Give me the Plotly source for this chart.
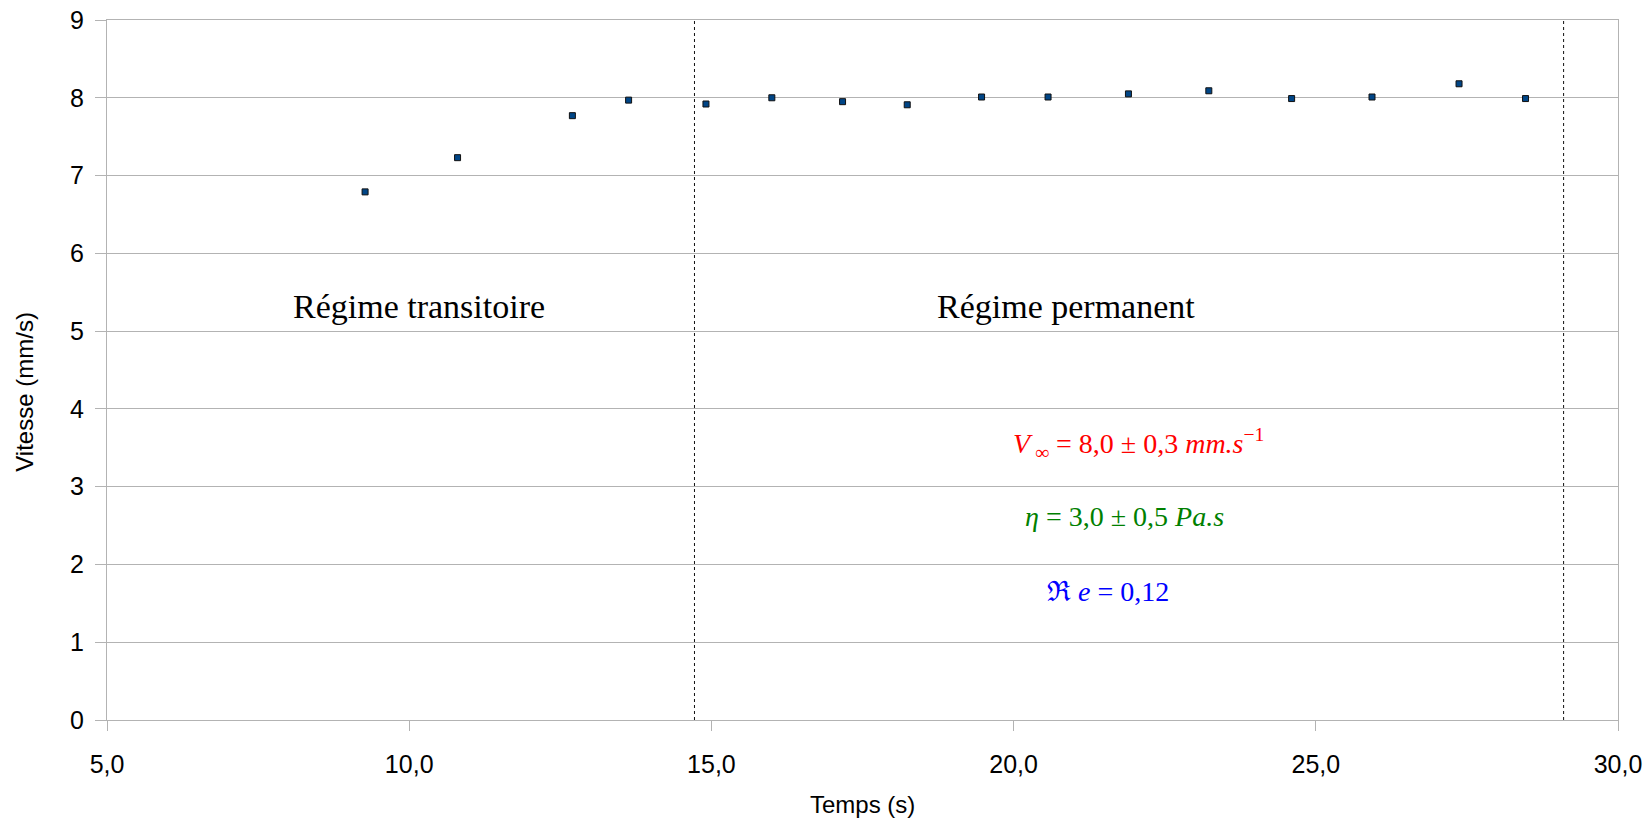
import plotly.graph_objects as go

# Data
temps = [9.27, 10.80, 12.70, 13.63, 14.91, 16.00, 17.17, 18.24, 19.47, 20.57,
         21.90, 23.23, 24.60, 25.93, 27.37, 28.47]
vitesse = [6.79, 7.23, 7.77, 7.97, 7.92, 8.00, 7.95, 7.91, 8.01, 8.01,
           8.05, 8.09, 7.99, 8.01, 8.18, 7.99]
separations = [14.72, 29.10]
x_ticks = [5, 10, 15, 20, 25, 30]
y_ticks = [0, 1, 2, 3, 4, 5, 6, 7, 8, 9]

fig = go.Figure()
fig.add_trace(go.Scatter(
    x=temps, y=vitesse, mode="markers",
    marker=dict(symbol="square", size=6, color="#004586",
                line=dict(color="#111111", width=1)),
    showlegend=False,
))

for xs in separations:
    fig.add_shape(type="line", xref="x", yref="paper", x0=xs, x1=xs, y0=0, y1=1,
                  line=dict(color="#111111", width=1, dash="3px,3px"))

serif_big = dict(family="Liberation Serif", size=34, color="black")
fig.add_annotation(x=10.16, y=5.16, text="Régime transitoire", showarrow=False,
                   font=serif_big, yanchor="bottom", yshift=-8)
fig.add_annotation(x=20.87, y=5.16, text="Régime permanent", showarrow=False,
                   font=serif_big, yanchor="bottom", yshift=-8)

math_font = dict(family="Liberation Serif", size=28)
fig.add_annotation(x=22.07, y=3.55,
                   text="<i>V</i><sub> ∞</sub> = 8,0 ± 0,3 <i>mm.s</i><sup>−1</sup>",
                   showarrow=False, font=dict(math_font, color="#ff0000"))
fig.add_annotation(x=21.84, y=2.62,
                   text="<i>η</i> = 3,0 ± 0,5 <i>Pa.s</i>",
                   showarrow=False, font=dict(math_font, color="#008000"))
fig.add_annotation(x=21.56, y=1.65,
                   text="ℜ <i>e</i> = 0,12",
                   showarrow=False, font=dict(math_font, color="#0000ff"))

title_font = dict(family="Liberation Sans", size=24, color="black")
# Axis titles placed in the margins
fig.add_annotation(xref="paper", yref="paper", x=0.5, y=0, yanchor="middle",
                   yshift=-84, text="Temps (s)", showarrow=False, font=title_font)
fig.add_annotation(xref="paper", yref="paper", x=0, y=0.469, xanchor="center",
                   yanchor="middle", xshift=-82, textangle=-90, text="Vitesse (mm/s)",
                   showarrow=False, font=title_font)

axis_font = dict(family="Liberation Sans", size=25, color="black")
fig.update_xaxes(
    range=[5, 30], tickvals=x_ticks, tickformat=".1f",
    showgrid=False, zeroline=False, automargin=False, ticklabeloverflow="allow",
    showline=True, linecolor="#b3b3b3", linewidth=1, mirror=True,
    ticks="outside", ticklen=10, tickcolor="#b3b3b3",
    tickfont=axis_font, ticklabelstandoff=12,
)
fig.update_yaxes(
    range=[0, 9], tickvals=y_ticks, automargin=False, ticklabeloverflow="allow",
    showgrid=True, gridcolor="#b3b3b3", gridwidth=1, zeroline=False,
    showline=True, linecolor="#b3b3b3", linewidth=1, mirror=True,
    ticks="outside", ticklen=11, tickcolor="#b3b3b3",
    tickfont=axis_font, ticklabelstandoff=6,
)
fig.update_layout(
    width=1652, height=821,
    margin=dict(l=107, r=34, t=20, b=101),
    paper_bgcolor="white", plot_bgcolor="white",
    separators=", ",
)
# Remove the default page margin so the figure fills the window exactly
fig.write_html("out.html",
               config={"displayModeBar": False},
               post_script="document.body.style.margin='0';document.body.style.overflow='hidden';")
